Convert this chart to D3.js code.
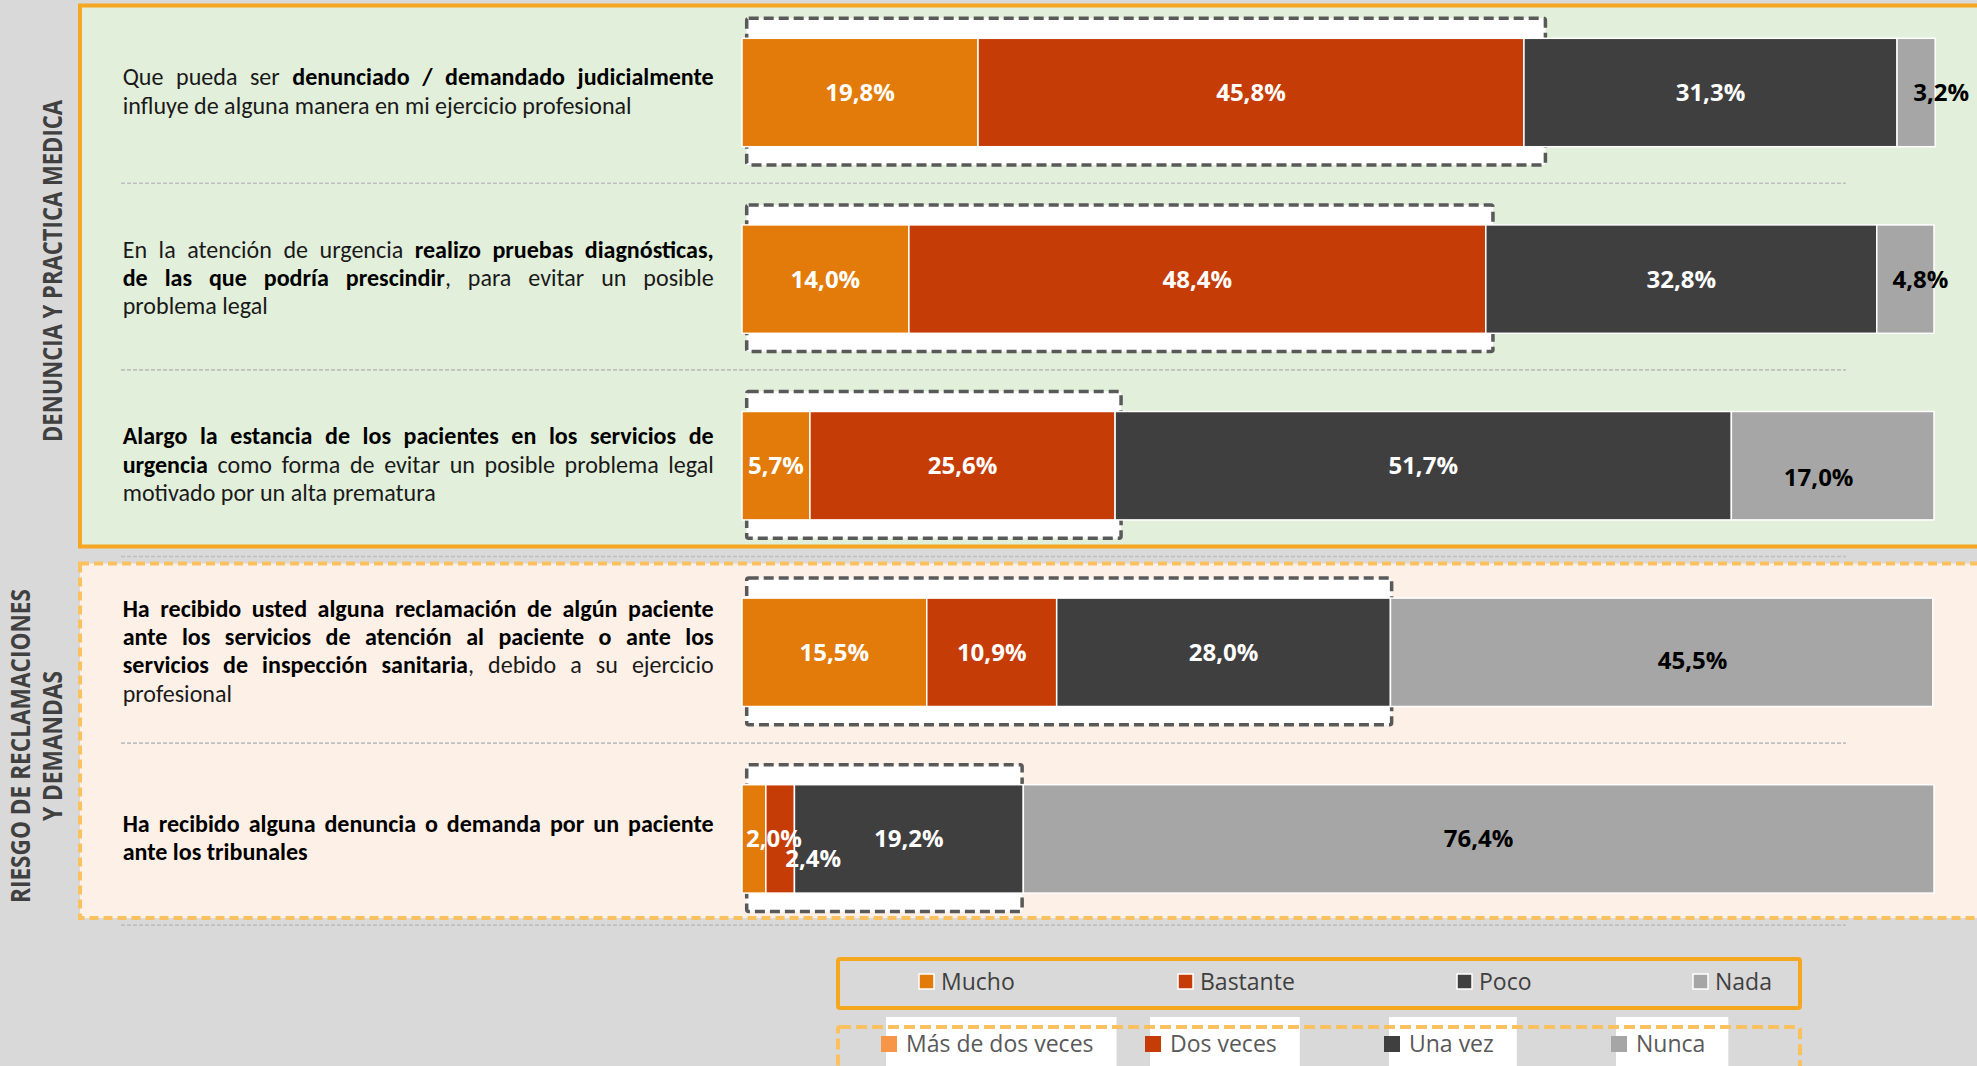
<!DOCTYPE html>
<html><head><meta charset="utf-8">
<script src="https://cdn.jsdelivr.net/npm/d3@7"></script>
<style>
html,body{margin:0;padding:0;background:#d9d9d9;overflow:hidden;}
svg{display:block;}
</style></head><body>
<svg id="chart" width="1977" height="1066"></svg>
<script>
// ---------------- DATA ----------------
const questionIds = ["q1", "q2", "q3", "q4", "q5"];
const questionLines = [
  ["Que pueda ser **denunciado / demandado judicialmente**",
   "influye de alguna manera en mi ejercicio profesional"],
  ["En la atención de urgencia **realizo pruebas diagnósticas,**",
   "**de las que podría prescindir**, para evitar un posible",
   "problema legal"],
  ["**Alargo la estancia de los pacientes en los servicios de**",
   "**urgencia** como forma de evitar un posible problema legal",
   "motivado por un alta prematura"],
  ["**Ha recibido usted alguna reclamación de algún paciente**",
   "**ante los servicios de atención al paciente o ante los**",
   "**servicios de inspección sanitaria**, debido a su ejercicio",
   "profesional"],
  ["**Ha recibido alguna denuncia o demanda por un paciente**",
   "**ante los tribunales**"]
];
const seriesKeys = ["s1", "s2", "s3", "s4"];
const legendNames1 = ["Mucho", "Bastante", "Poco", "Nada"];
const legendNames2 = ["Más de dos veces", "Dos veces", "Una vez", "Nunca"];
const valuesS1 = [19.8, 14.0, 5.7, 15.5, 2.0];   // Mucho / Más de dos veces
const valuesS2 = [45.8, 48.4, 25.6, 10.9, 2.4];  // Bastante / Dos veces
const valuesS3 = [31.3, 32.8, 51.7, 28.0, 19.2]; // Poco / Una vez
const valuesS4 = [3.2, 4.8, 17.0, 45.5, 76.4];   // Nada / Nunca
const highlightEnd = [67.4, 63.0, 31.8, 54.5, 23.5]; // dashed highlight box extent (%)
const groupTitles = [["DENUNCIA Y PRACTICA MEDICA"], ["RIESGO DE RECLAMACIONES", "Y DEMANDAS"]];

// ---------------- STYLE / LAYOUT ----------------
const FONT = "Carlito, Calibri, Lato, 'Open Sans', sans-serif";
const FONT2 = "'Open Sans', 'Noto Sans', sans-serif";
const barColors = ["#e27b0a", "#c63c07", "#3f3f3f", "#a6a6a6"];
const legend2Colors = ["#f79646", "#c63c07", "#3f3f3f", "#a6a6a6"];
const labelColors = ["#ffffff", "#ffffff", "#ffffff", "#000000"];
const labelNudge = { "0-3": [25, 0], "1-3": [15, 0], "2-3": [-14, 12], "3-3": [31, 8], "4-0": [20, 0], "4-1": [33, 20] };

const svg = d3.select("#chart");
const rows = questionIds.map((id, i) => ({ id, s1: valuesS1[i], s2: valuesS2[i], s3: valuesS3[i], s4: valuesS4[i] }));

const x = d3.scaleLinear().domain([0, 100]).range([742, 1934]);
const y = d3.scaleBand().domain(questionIds).range([38.3, 893.1]).paddingInner(0.419).paddingOuter(0);
const bw = y.bandwidth();

// background
svg.append("rect").attr("width", 1977).attr("height", 1066).attr("fill", "#d9d9d9");

// group panels
svg.append("rect").attr("x", 80).attr("y", 5.5).attr("width", 1960).attr("height", 541)
  .attr("fill", "#e2efda").attr("stroke", "#f5a623").attr("stroke-width", 4);
svg.append("rect").attr("x", 80).attr("y", 563.5).attr("width", 1960).attr("height", 354.5)
  .attr("fill", "#fdf0e6").attr("stroke", "#fbc15e").attr("stroke-width", 4).attr("stroke-dasharray", "9,5");

// separators
const sepOffset = [36.6, 36.6, 36.6, 36.6, 32];
svg.append("g").selectAll("line").data(questionIds).join("line")
  .attr("x1", 121).attr("x2", 1846)
  .attr("y1", (d, i) => y(d) + bw + sepOffset[i]).attr("y2", (d, i) => y(d) + bw + sepOffset[i])
  .attr("stroke", "#bfbfbf").attr("stroke-width", 1.6).attr("stroke-dasharray", "4,2");

// highlight boxes
svg.append("g").selectAll("rect").data(questionIds).join("rect")
  .attr("x", x(0) + 4.7)
  .attr("y", d => y(d) - 20)
  .attr("width", (d, i) => x(highlightEnd[i]) - x(0) - 4.7)
  .attr("height", bw + 38.3)
  .attr("rx", 2)
  .attr("fill", "#ffffff").attr("stroke", "#595959").attr("stroke-width", 3.5).attr("stroke-dasharray", "10,5");

// stacked bars
const stacked = d3.stack().keys(seriesKeys)(rows);
const layers = svg.append("g").selectAll("g").data(stacked).join("g")
  .attr("fill", (d, i) => barColors[i]);
layers.selectAll("rect").data(d => d).join("rect")
  .attr("x", d => x(d[0]))
  .attr("y", d => y(d.data.id))
  .attr("width", d => x(d[1]) - x(d[0]))
  .attr("height", bw)
  .attr("stroke", "#ffffff").attr("stroke-width", 1.5);

// value labels
const fmt = v => d3.format(".1f")(v).replace(".", ",") + "%";
const labelG = svg.append("g").attr("font-family", FONT2).attr("font-weight", "bold").attr("font-size", 24)
  .attr("text-anchor", "middle");
stacked.forEach((layer, si) => {
  layer.forEach((d, ri) => {
    const n = labelNudge[ri + "-" + si] || [0, 0];
    labelG.append("text")
      .attr("x", (x(d[0]) + x(d[1])) / 2 + n[0])
      .attr("y", y(d.data.id) + bw / 2 + 8.5 + n[1])
      .attr("fill", labelColors[si])
      .text(fmt(d[1] - d[0]));
  });
});

// question texts (justified)
const textLeft = 122.7, textWidth = 591, lineH = 28.3;
const calib = svg.append("text").attr("font-family", FONT).attr("font-size", 100).text(questionLines[0][1]);
const qSize = 100 * 509 / calib.node().getComputedTextLength();
calib.remove();
const spaceProbe = svg.append("text").attr("font-family", FONT).attr("font-size", qSize).text("a a");
const spaceProbe2 = svg.append("text").attr("font-family", FONT).attr("font-size", qSize).text("aa");
const spaceW = spaceProbe.node().getComputedTextLength() - spaceProbe2.node().getComputedTextLength();
spaceProbe.remove(); spaceProbe2.remove();

function parseWords(line) {
  const parts = line.split("**");
  const words = []; let cur = [];
  parts.forEach((p, i) => {
    const bold = i % 2 === 1;
    p.split(" ").forEach((piece, j) => {
      if (j > 0) { if (cur.length) words.push(cur); cur = []; }
      if (piece.length) cur.push({ text: piece, bold });
    });
  });
  if (cur.length) words.push(cur);
  return words;
}

const qG = svg.append("g").attr("font-family", FONT).attr("font-size", qSize);
questionLines.forEach((lines, qi) => {
  const center = y(questionIds[qi]) + bw / 2;
  lines.forEach((line, li) => {
    const baseline = center + (li - (lines.length - 1) / 2) * lineH + 7;
    const words = parseWords(line);
    const nodes = words.map(w => {
      const t = qG.append("text").attr("y", baseline);
      w.forEach(r => t.append("tspan").attr("font-weight", r.bold ? "bold" : "normal")
        .attr("fill", r.bold ? "#000000" : "#1a1a1a").text(r.text));
      return t;
    });
    const widths = nodes.map(t => t.node().getComputedTextLength());
    const total = d3.sum(widths);
    const isLast = li === lines.length - 1;
    const gap = (!isLast && words.length > 1) ? (textWidth - total) / (words.length - 1) : spaceW;
    let cx = textLeft;
    nodes.forEach((t, k) => { t.attr("x", cx); cx += widths[k] + gap; });
  });
});

// group titles (rotated)
const titleG = svg.append("g").attr("font-family", FONT2).attr("font-weight", "bold")
  .attr("fill", "#404040").attr("text-anchor", "middle");
titleG.append("text").attr("transform", "translate(51.7,271) rotate(-90)")
  .attr("dominant-baseline", "central").attr("font-size", 27)
  .attr("textLength", 342).attr("lengthAdjust", "spacingAndGlyphs").text(groupTitles[0][0]);
titleG.append("text").attr("transform", "translate(19.4,746) rotate(-90)")
  .attr("dominant-baseline", "central").attr("font-size", 27)
  .attr("textLength", 314).attr("lengthAdjust", "spacingAndGlyphs").text(groupTitles[1][0]);
titleG.append("text").attr("transform", "translate(51,746) rotate(-90)")
  .attr("dominant-baseline", "central").attr("font-size", 27)
  .attr("textLength", 150).attr("lengthAdjust", "spacingAndGlyphs").text(groupTitles[1][1]);

// legend 1
svg.append("rect").attr("x", 838).attr("y", 959).attr("width", 962).attr("height", 49).attr("rx", 2)
  .attr("fill", "none").attr("stroke", "#f5a81f").attr("stroke-width", 4);
const leg1X = [919, 1178, 1457, 1693];
legendNames1.forEach((name, i) => {
  svg.append("rect").attr("x", leg1X[i]).attr("y", 974).attr("width", 15).attr("height", 15)
    .attr("fill", barColors[i]).attr("stroke", "#ffffff").attr("stroke-width", 1.5);
  svg.append("text").attr("x", leg1X[i] + 22).attr("y", 990).attr("font-family", FONT2)
    .attr("font-size", 23).attr("fill", "#404040").text(name);
});

// legend 2
const leg2X = [881, 1145, 1384, 1611];
const leg2G = svg.append("g");
legendNames2.forEach((name, i) => {
  const bg = leg2G.append("rect").attr("fill", "#ffffff");
  const t = leg2G.append("text").attr("x", leg2X[i] + 25).attr("y", 1052).attr("font-family", FONT2)
    .attr("font-size", 23).attr("fill", "#595959").text(name);
  const tw = t.node().getComputedTextLength();
  bg.attr("x", leg2X[i] + 5).attr("y", 1017).attr("width", tw + 43).attr("height", 60);
  leg2G.append("rect").attr("x", leg2X[i]).attr("y", 1036).attr("width", 16).attr("height", 16)
    .attr("fill", legend2Colors[i]);
  t.raise();
});
svg.append("rect").attr("x", 838).attr("y", 1027).attr("width", 962).attr("height", 60).attr("rx", 2)
  .attr("fill", "none").attr("stroke", "#fbc15e").attr("stroke-width", 4).attr("stroke-dasharray", "11,5");
</script>
</body></html>
